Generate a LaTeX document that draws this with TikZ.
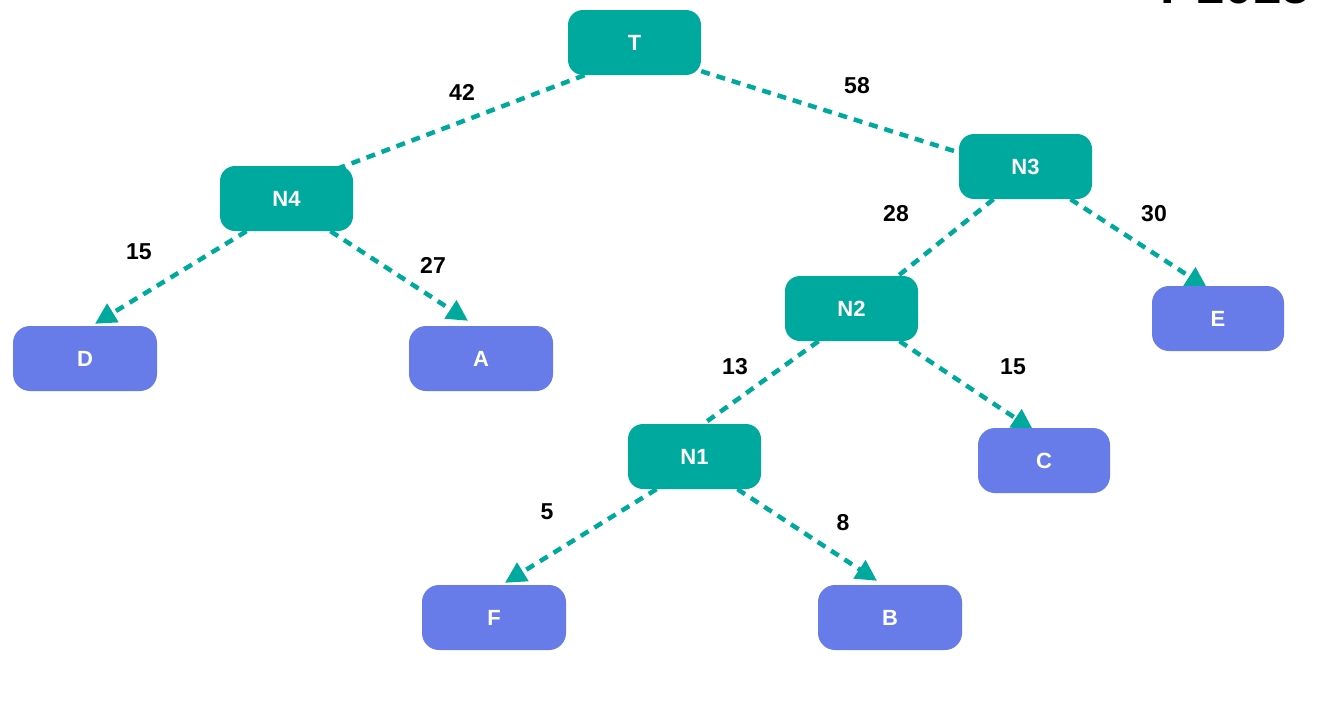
\documentclass[tikz,border=0pt]{standalone}
\usepackage{fontspec}
\setmainfont{Liberation Sans}
\usetikzlibrary{arrows.meta,backgrounds}
\definecolor{tealc}{RGB}{0,169,157}
\definecolor{bluec}{RGB}{103,124,233}
\begin{document}
\begin{tikzpicture}[x=1pt,y=-1pt,
  inner/.style={fill=tealc, rounded corners=15pt, minimum width=133pt, minimum height=65pt, inner sep=0pt, text=white, font=\fontsize{22}{26}\selectfont\bfseries},
  leaf/.style={fill=bluec, rounded corners=17pt, minimum width=144pt, minimum height=65pt, inner sep=0pt, text=white, font=\fontsize{22}{26}\selectfont\bfseries},
  edge/.style={draw=tealc, line width=4.5pt, dash pattern=on 9pt off 7pt},
  arr/.style={edge, -{Triangle[length=21pt,width=21pt]}},
  lbl/.style={font=\fontsize{23}{27}\selectfont\bfseries, inner sep=0pt}]
\clip (0,0) rectangle (1322,704);
\node[anchor=base east, font=\fontsize{52}{56}\selectfont\bfseries, inner sep=0pt] (pg) at (1311,4) {P1015};
% nodes
\node[inner] (T)  at (634.5,42.5)  {T};
\node[inner] (N4) at (286.5,198.5) {N4};
\node[inner] (N3) at (1025.5,166.5) {N3};
\node[inner] (N2) at (851.5,308.5) {N2};
\node[inner] (N1) at (694.5,456.5) {N1};
\node[leaf] (D) at (85,358.5) {D};
\node[leaf] (A) at (481,358.5) {A};
\node[leaf, minimum width=132pt] (E) at (1218,318.5) {E};
\node[leaf, minimum width=132pt] (C) at (1044,460.5) {C};
\node[leaf] (F) at (494,617.5) {F};
\node[leaf] (B) at (890,617.5) {B};
% edges
\begin{scope}[on background layer]
\fill[white] (0,0) rectangle (1322,704);
\draw[edge] ([xshift=-50pt]T.south) -- ([xshift=48pt,yshift=-4pt]N4.north);
\draw[edge] ([yshift=4pt]T.south east) -- ([yshift=14pt]N3.west);
\draw[arr] ([xshift=-40pt]N4.south) -- ([xshift=10pt,yshift=2pt]D.north);
\draw[arr] ([xshift=44pt]N4.south) -- ([xshift=-13pt,yshift=5pt]A.north);
\draw[arr] ([xshift=45pt]N3.south) -- ([xshift=-11pt,yshift=-2pt]E.north);
\draw[edge] ([xshift=-32pt]N3.south) -- ([xshift=-20pt]N2.north east);
\draw[arr] ([xshift=48pt]N2.south) -- ([xshift=-11pt,yshift=-2pt]C.north);
\draw[edge] ([xshift=-33pt]N2.south) -- ([xshift=9pt]N1.north);
\draw[arr] ([xshift=-38pt]N1.south) -- ([xshift=11pt,yshift=2pt]F.north);
\draw[arr] ([xshift=43pt]N1.south) -- ([xshift=-13pt,yshift=4pt]B.north);
\end{scope}
% labels
\node[lbl] (l42) at (462,92) {42};
\node[lbl] (l58) at (857,86) {58};
\node[lbl] (l15a) at (139,252) {15};
\node[lbl] (l27) at (433,265) {27};
\node[lbl] (l28) at (896,214) {28};
\node[lbl] (l30) at (1154,214) {30};
\node[lbl] (l13) at (735,367) {13};
\node[lbl] (l15b) at (1013,367) {15};
\node[lbl] (l5) at (547,512) {5};
\node[lbl] (l8) at (843,523) {8};
\end{tikzpicture}
\end{document}
